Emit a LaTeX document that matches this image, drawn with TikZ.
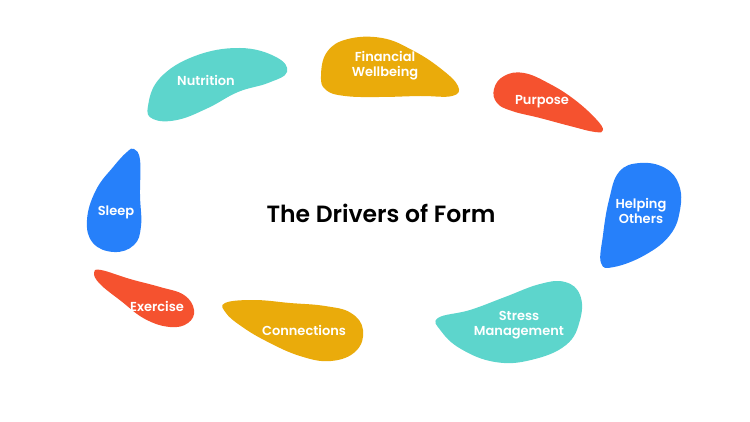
\documentclass[tikz,border=0pt]{standalone}
\usepackage{fontspec}
\setmainfont{Poppins}
\newfontfamily\semifont{Poppins SemiBold}
\definecolor{cteal}{HTML}{5DD5CC}
\definecolor{cgold}{HTML}{EAAB0B}
\definecolor{cred}{HTML}{F5522F}
\definecolor{cblue}{HTML}{2680FA}
\tikzset{
  blob/.style={fill=#1, draw=none},
  lbl/.style={text=white, font=\semifont\fontsize{13}{15}\selectfont, align=center, inner sep=0pt},
  ttl/.style={text=black, font=\semifont\fontsize{23.5}{26}\selectfont, inner sep=0pt}
}
\begin{document}
\begin{tikzpicture}[x=1pt,y=-1pt]
\useasboundingbox (0,0) rectangle (750,422);
% Nutrition
\fill[blob=cteal] plot[smooth cycle, tension=0.7] coordinates {(148,106) (160,78) (195,56) (240,48) (276,57) (287,72) (268,83) (238,92) (208,108) (177,120) (153,119)};
% Financial Wellbeing
\fill[blob=cgold] plot[smooth cycle, tension=0.7] coordinates {(321,76) (327,52) (348,39) (382,38) (412,50) (440,68) (458,86) (452,96) (420,96) (380,97) (345,96) (326,90)};
% Purpose
\fill[blob=cred] plot[smooth cycle, tension=0.7] coordinates {(494,89) (504,76) (524,73) (550,84) (575,100) (596,119) (603,130) (595,132) (570,126) (540,118) (512,111) (497,103)};
% Sleep
\fill[blob=cblue] plot[smooth cycle, tension=0.7] coordinates {(134,149) (140,160) (140,195) (141,226) (134,245) (114,252) (93,243) (87,220) (96,190) (114,166) (127,152)};
% Helping Others
\fill[blob=cblue] plot[smooth cycle, tension=0.7] coordinates {(640,163) (665,168) (679,185) (680,210) (670,235) (645,255) (614,267) (601,263) (603,235) (609,200) (619,172)};
% Exercise
\fill[blob=cred] plot[smooth cycle, tension=0.7] coordinates {(94,273) (101,270) (130,279) (160,287) (184,295) (194,310) (188,323) (170,327) (145,319) (121,301) (100,284)};
% Connections
\fill[blob=cgold] plot[smooth cycle, tension=0.7] coordinates {(225,303) (254,300) (290,303) (325,306) (351,313) (363,330) (356,351) (331,361) (300,356) (266,341) (241,326) (226,313)};
% Stress Management
\fill[blob=cteal] plot[smooth cycle, tension=0.7] coordinates {(438,318) (470,310) (505,297) (540,284) (565,282) (580,295) (580,320) (566,345) (531,360) (495,362) (461,349) (441,331)};
% labels
\node[ttl] (title) at (381,213) {The Drivers of Form};
\node[lbl] (nutrition) at (206,80) {Nutrition};
\node[lbl] (financial) at (385,66) {Financial\\Wellbeing};
\node[lbl] (purpose) at (542,102) {Purpose};
\node[lbl] (sleep) at (116,212) {Sleep};
\node[lbl] (helping) at (641,211) {Helping\\Others};
\node[lbl] (exercise) at (157,306) {Exercise};
\node[lbl] (connections) at (304,330) {Connections};
\node[lbl] (stress) at (519,325) {Stress\\Management};
\end{tikzpicture}
\end{document}
